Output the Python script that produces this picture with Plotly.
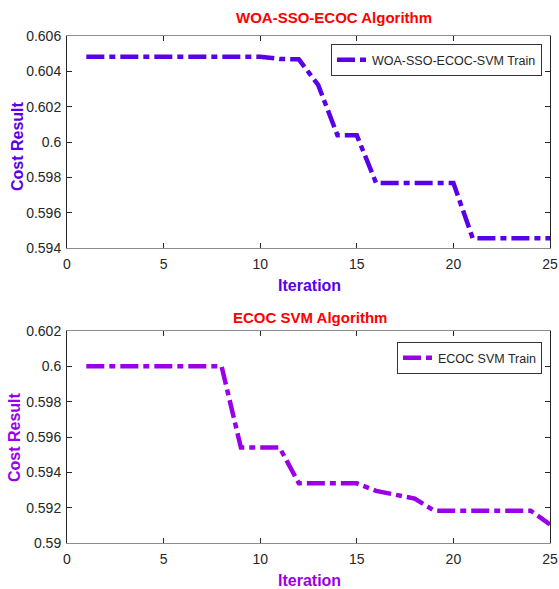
import plotly.graph_objects as go

# ---- data ----
iterations = list(range(1, 26))
woa_sso_ecoc_svm_train = [0.60483] * 10 + [0.6047, 0.60468, 0.60323, 0.60038, 0.60038,
                                           0.59768, 0.59768, 0.59768, 0.59768, 0.59768,
                                           0.59455, 0.59455, 0.59455, 0.59455, 0.59455]
ecoc_svm_train = [0.6000] * 8 + [0.59541, 0.59541, 0.59541,
                                 0.59338, 0.59338, 0.59338, 0.59338,
                                 0.59295, 0.59276, 0.59251,
                                 0.59183, 0.59183, 0.59183, 0.59183, 0.59183, 0.59183,
                                 0.59105]
x_ticks = [0, 5, 10, 15, 20, 25]
top_y_ticks = [0.594, 0.596, 0.598, 0.600, 0.602, 0.604, 0.606]
top_y_labels = ["0.594", "0.596", "0.598", "0.6", "0.602", "0.604", "0.606"]
bot_y_ticks = [0.590, 0.592, 0.594, 0.596, 0.598, 0.600, 0.602]
bot_y_labels = ["0.59", "0.592", "0.594", "0.596", "0.598", "0.6", "0.602"]

top_color = "#5A00E8"
bot_color = "#9A00E8"
dash = "18px,5px,6px,5px"
FONT = "Liberation Sans, Arial, sans-serif"

W, H = 559, 589
PLOT_L, PLOT_R, PLOT_T, PLOT_B = 67, 550, 36, 543
L, R, T, B = PLOT_L, W - PLOT_R, PLOT_T, H - PLOT_B
pw, ph = W - L - R, H - T - B


def px(x):
    return (x - PLOT_L) / pw


def py(y):
    return (PLOT_B - y) / ph


fig = go.Figure()
fig.add_trace(go.Scatter(x=iterations, y=woa_sso_ecoc_svm_train, mode="lines",
                         name="WOA-SSO-ECOC-SVM Train", showlegend=True,
                         line=dict(color=top_color, width=4.5, dash=dash),
                         xaxis="x", yaxis="y", legend="legend"))
fig.add_trace(go.Scatter(x=iterations, y=ecoc_svm_train, mode="lines",
                         name="ECOC SVM Train", showlegend=True,
                         line=dict(color=bot_color, width=4.5, dash=dash),
                         xaxis="x2", yaxis="y2", legend="legend2"))

axis_common = dict(showline=True, mirror="ticks", ticks="inside", ticklen=5,
                   tickcolor="#262626", tickwidth=1, showgrid=False, zeroline=False,
                   tickfont=dict(family=FONT, size=14, color="#262626"))

xcommon = dict(axis_common, range=[0, 25], tickvals=x_ticks, linecolor="#8c8c8c",
               ticklabelstandoff=3)
ycommon = dict(axis_common, linecolor="#262626", ticklabelstandoff=2)
fig.update_layout(
    xaxis=dict(xcommon, domain=[0, 1], anchor="y"),
    yaxis=dict(ycommon, domain=[py(248), 1], anchor="x", range=[0.594, 0.606],
               tickvals=top_y_ticks, ticktext=top_y_labels),
    xaxis2=dict(xcommon, domain=[0, 1], anchor="y2"),
    yaxis2=dict(ycommon, domain=[0, py(331)], anchor="x2", range=[0.590, 0.602],
                tickvals=bot_y_ticks, ticktext=bot_y_labels),
)

legend_common = dict(bgcolor="white", bordercolor="#333333", borderwidth=1, visible=True,
                     font=dict(family=FONT, size=12.5, color="#262626"),
                     xanchor="right", yanchor="top", x=px(542))
fig.update_layout(
    showlegend=True,
    legend=dict(legend_common, y=py(44)),
    legend2=dict(legend_common, y=py(342)),
)

ann = []
ann.append(dict(text="<b>WOA-SSO-ECOC Algorithm</b>", x=px(334), y=py(17),
                font=dict(family=FONT, size=15, color="#FF0000")))
ann.append(dict(text="<b>ECOC SVM Algorithm</b>", x=px(310), y=py(317),
                font=dict(family=FONT, size=15, color="#FF0000")))
ann.append(dict(text="<b>Iteration</b>", x=px(309), y=py(285),
                font=dict(family=FONT, size=16, color=top_color)))
ann.append(dict(text="<b>Iteration</b>", x=px(309), y=py(580),
                font=dict(family=FONT, size=16, color=bot_color)))
ann.append(dict(text="<b>Cost Result</b>", x=px(17), y=py(146), textangle=-90,
                font=dict(family=FONT, size=16, color=top_color)))
ann.append(dict(text="<b>Cost Result</b>", x=px(14), y=py(437), textangle=-90,
                font=dict(family=FONT, size=16, color=bot_color)))
for a in ann:
    a.update(xref="paper", yref="paper", xanchor="center", yanchor="middle",
             showarrow=False)

fig.update_layout(
    width=W, height=H, annotations=ann,
    margin=dict(l=L, r=R, t=T, b=B, autoexpand=False),
    paper_bgcolor="white", plot_bgcolor="white",
)

fig.write_html(
    "out.html",
    config={"displayModeBar": False},
    post_script="document.body.style.margin='0';document.body.style.overflow='hidden';",
)
